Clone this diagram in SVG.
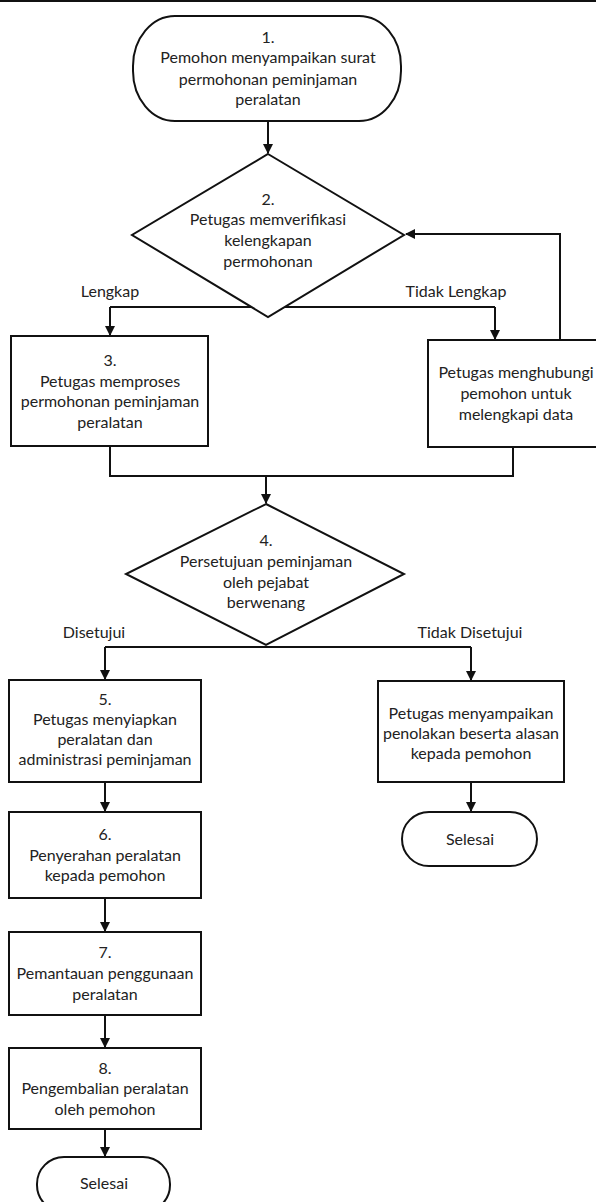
<svg xmlns="http://www.w3.org/2000/svg" width="596" height="1202" viewBox="0 0 596 1202">
<defs>
<marker id="ah" markerWidth="10" markerHeight="10" refX="9" refY="5" orient="auto" markerUnits="userSpaceOnUse">
<path d="M0,0 L10,5 L0,10 Z" fill="#111"/>
</marker>
<style>
.s{fill:#fff;stroke:#111;stroke-width:2}
.c{fill:none;stroke:#111;stroke-width:2}
.t{font-family:Lato,"Open Sans",sans-serif;font-size:16px;fill:#222;text-anchor:middle}
</style>
</defs>
<rect x="0" y="0" width="596" height="1202" fill="#fff"/>
<rect x="0" y="0" width="596" height="2" fill="#111"/>
<g id="connectors">
<path class="c" d="M268,121 V153" marker-end="url(#ah)"/>
<path class="c" d="M110,307 H495"/>
<path class="c" d="M110,307 V335" marker-end="url(#ah)"/>
<path class="c" d="M495,307 V339" marker-end="url(#ah)"/>
<path class="c" d="M560,340 V234 H406" marker-end="url(#ah)"/>
<path class="c" d="M110,446 V476 H513 V447"/>
<path class="c" d="M266,476 V503" marker-end="url(#ah)"/>
<path class="c" d="M105,647 H471"/>
<path class="c" d="M105,647 V679" marker-end="url(#ah)"/>
<path class="c" d="M471,647 V680" marker-end="url(#ah)"/>
<path class="c" d="M471,782 V811" marker-end="url(#ah)"/>
<path class="c" d="M105,782 V811" marker-end="url(#ah)"/>
<path class="c" d="M105,898 V931" marker-end="url(#ah)"/>
<path class="c" d="M105,1015 V1047" marker-end="url(#ah)"/>
<path class="c" d="M105,1129 V1156" marker-end="url(#ah)"/>
<text class="t" x="110" y="297">Lengkap</text>
<text class="t" x="456" y="297">Tidak Lengkap</text>
<text class="t" x="94" y="638">Disetujui</text>
<text class="t" x="470" y="638">Tidak Disetujui</text>
</g>
<g id="n1">
<rect class="s" x="133" y="16" width="268" height="105" rx="42" ry="50"/>
<text class="t" x="268" y="43">1.</text>
<text class="t" x="268" y="63">Pemohon menyampaikan surat</text>
<text class="t" x="268" y="85">permohonan peminjaman</text>
<text class="t" x="268" y="105">peralatan</text>
</g>
<g id="n2">
<path class="s" d="M268,154 L404,235 L268,317 L132,235 Z"/>
<text class="t" x="268" y="205">2.</text>
<text class="t" x="268" y="225">Petugas memverifikasi</text>
<text class="t" x="268" y="246">kelengkapan</text>
<text class="t" x="268" y="267">permohonan</text>
</g>
<g id="n3">
<rect class="s" x="11" y="336" width="197" height="110"/>
<text class="t" x="110" y="366">3.</text>
<text class="t" x="110" y="387">Petugas memproses</text>
<text class="t" x="110" y="407">permohonan peminjaman</text>
<text class="t" x="110" y="428">peralatan</text>
</g>
<g id="n3b">
<rect class="s" x="428" y="340" width="172" height="107"/>
<text class="t" x="516" y="378">Petugas menghubungi</text>
<text class="t" x="516" y="399">pemohon untuk</text>
<text class="t" x="516" y="420">melengkapi data</text>
</g>
<g id="n4">
<path class="s" d="M266,504 L404,574 L266,645 L126,574 Z"/>
<text class="t" x="266" y="546">4.</text>
<text class="t" x="266" y="567">Persetujuan peminjaman</text>
<text class="t" x="266" y="588">oleh pejabat</text>
<text class="t" x="266" y="608">berwenang</text>
</g>
<g id="n5">
<rect class="s" x="9" y="680" width="192" height="102"/>
<text class="t" x="105" y="705">5.</text>
<text class="t" x="105" y="725">Petugas menyiapkan</text>
<text class="t" x="105" y="745">peralatan dan</text>
<text class="t" x="105" y="765">administrasi peminjaman</text>
</g>
<g id="n5b">
<rect class="s" x="378" y="681" width="186" height="101"/>
<text class="t" x="471" y="719">Petugas menyampaikan</text>
<text class="t" x="471" y="739">penolakan beserta alasan</text>
<text class="t" x="471" y="759">kepada pemohon</text>
</g>
<g id="end1">
<rect class="s" x="402" y="812" width="135" height="54" rx="27" ry="27"/>
<text class="t" x="470" y="845">Selesai</text>
</g>
<g id="n6">
<rect class="s" x="9" y="812" width="192" height="86"/>
<text class="t" x="105" y="840">6.</text>
<text class="t" x="105" y="861">Penyerahan peralatan</text>
<text class="t" x="105" y="881">kepada pemohon</text>
</g>
<g id="n7">
<rect class="s" x="9" y="932" width="192" height="83"/>
<text class="t" x="105" y="958">7.</text>
<text class="t" x="105" y="979">Pemantauan penggunaan</text>
<text class="t" x="105" y="1000">peralatan</text>
</g>
<g id="n8">
<rect class="s" x="9" y="1048" width="192" height="81"/>
<text class="t" x="105" y="1074">8.</text>
<text class="t" x="105" y="1094">Pengembalian peralatan</text>
<text class="t" x="105" y="1115">oleh pemohon</text>
</g>
<g id="end2">
<rect class="s" x="37" y="1157" width="133" height="55" rx="27" ry="27"/>
<text class="t" x="104" y="1189">Selesai</text>
</g>
</svg>
